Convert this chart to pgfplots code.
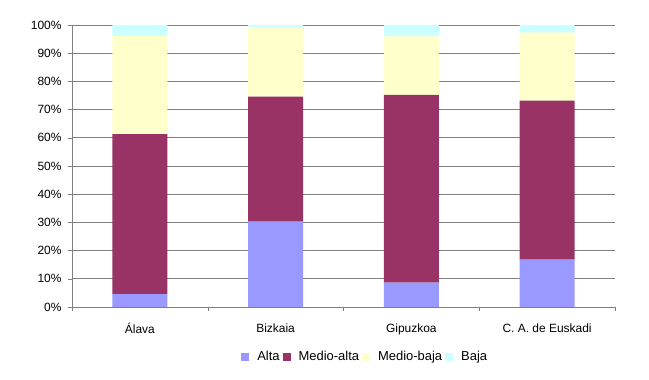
\documentclass[border=0pt]{standalone}
\usepackage{fontspec}
\setmainfont{Liberation Sans}
\usepackage{pgfplots}
\pgfplotsset{compat=1.18}
\definecolor{alta}{HTML}{9999FF}
\definecolor{malta}{HTML}{993366}
\definecolor{mbaja}{HTML}{FFFFCC}
\definecolor{baja}{HTML}{CCFFFF}
\definecolor{gridc}{HTML}{808080}
\begin{document}
\begin{tikzpicture}
\path[use as bounding box] (0,0) rectangle (649bp,380bp);
\begin{axis}[
  at={(72bp,73bp)}, anchor=south west,
  scale only axis, width=543bp, height=282bp,
  ybar stacked, bar width=55bp,
  xmin=-0.5, xmax=3.5, ymin=0, ymax=100,
  axis lines=left, axis line style={-, gridc},
  xtick={0,1,2,3},
  xticklabels={Álava,Bizkaia,Gipuzkoa,C. A. de Euskadi},
  major x tick style={draw=none},
  minor xtick={-0.5,0.5,1.5,2.5,3.5},
  minor x tick style={gridc},
  minor tick length=4bp,
  ytick={0,10,...,100},
  yticklabel={\pgfmathprintnumber{\tick}\%},
  y tick style={gridc}, major tick length=4bp,
  tick align=outside,
  ymajorgrids, major grid style={gridc, line width=0.8pt},
  every tick label/.style={font=\fontsize{12}{14}\selectfont},
  yticklabel style={xshift=-3bp},
  xticklabel style={yshift=-9bp},
  /pgf/number format/assume math mode=true,
  legend style={at={(axis description cs:0.54,-0.177)}, anchor=center, draw=none,
    font=\fontsize{13}{15}\selectfont, legend columns=-1,
    /tikz/every even column/.append style={column sep=1bp},
    /tikz/every odd column/.append style={column sep=6bp}},
  legend image code/.code={\fill[#1] (0bp,-4bp) rectangle (8bp,4bp);},
]
\addplot[fill=alta, draw=none] coordinates {(0,4.6) (1,30.3) (2,8.6) (3,16.8)};
\addplot[fill=malta, draw=none] coordinates {(0,56.7) (1,44.3) (2,66.6) (3,56.4)};
\addplot[fill=mbaja, draw=none] coordinates {(0,34.8) (1,24.6) (2,20.8) (3,24.1)};
\addplot[fill=baja, draw=none] coordinates {(0,3.9) (1,0.8) (2,4.0) (3,2.7)};
\legend{Alta,Medio-alta,Medio-baja,Baja}
\end{axis}
\end{tikzpicture}
\end{document}
